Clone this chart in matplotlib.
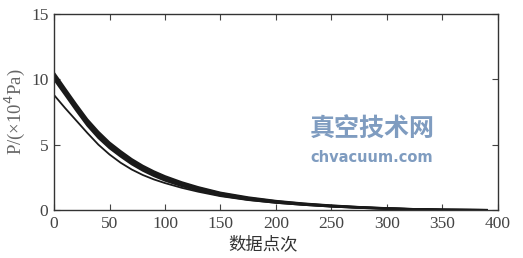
import matplotlib
matplotlib.use("Agg")
import matplotlib.pyplot as plt

# 数据点次 (sample positions)
x_pts = [0, 5, 10, 20, 30, 40, 50, 60, 70, 80, 90, 100, 115, 130, 150, 175, 200, 225, 250, 275, 300, 325, 350, 390]

# bundle of curves (upper group)
p_a = [10.50, 9.90, 9.29, 8.09, 6.94, 5.99, 5.17, 4.51, 3.90, 3.39, 2.96, 2.59, 2.13, 1.75, 1.33, 0.97, 0.70, 0.50, 0.35, 0.23, 0.14, 0.07, 0.03, 0.0]
p_b = [10.38, 9.78, 9.17, 7.97, 6.82, 5.87, 5.06, 4.40, 3.80, 3.30, 2.87, 2.51, 2.06, 1.69, 1.28, 0.92, 0.67, 0.48, 0.33, 0.22, 0.13, 0.07, 0.02, 0.0]
p_c = [10.25, 9.65, 9.05, 7.85, 6.70, 5.75, 4.95, 4.30, 3.70, 3.20, 2.78, 2.42, 1.98, 1.62, 1.22, 0.88, 0.63, 0.45, 0.31, 0.20, 0.12, 0.06, 0.02, 0.0]
p_d = [10.12, 9.52, 8.93, 7.73, 6.58, 5.63, 4.84, 4.20, 3.60, 3.11, 2.69, 2.34, 1.91, 1.56, 1.17, 0.84, 0.60, 0.43, 0.29, 0.19, 0.11, 0.06, 0.02, 0.0]
p_e = [10.00, 9.40, 8.81, 7.61, 6.46, 5.51, 4.73, 4.09, 3.50, 3.01, 2.60, 2.25, 1.83, 1.49, 1.11, 0.79, 0.56, 0.40, 0.27, 0.17, 0.10, 0.05, 0.01, 0.0]
# lower single curve
p_low = [8.80, 8.30, 7.80, 6.85, 5.90, 5.00, 4.25, 3.62, 3.10, 2.68, 2.34, 2.06, 1.70, 1.40, 1.06, 0.76, 0.55, 0.39, 0.26, 0.16, 0.08, 0.03, 0.01, 0.0]

x_ticks = [0, 50, 100, 150, 200, 250, 300, 350, 400]
y_ticks = [0, 5, 10, 15]

fig = plt.figure(figsize=(5.23, 2.58), dpi=100)
ax = fig.add_axes([0.1033, 0.186, 0.8487, 0.7597])

for p in (p_a, p_b, p_c, p_d, p_e):
    ax.plot(x_pts, p, color="#1a1a1a", lw=1.5, solid_joinstyle="round")
ax.plot(x_pts, p_low, color="#1a1a1a", lw=1.3, solid_joinstyle="round")

ax.set_xlim(0, 400)
ax.set_ylim(0, 15)
ax.set_xticks(x_ticks)
ax.set_yticks(y_ticks)
ax.tick_params(direction="in", length=4, width=0.8, top=True, right=True,
               labelsize=12.5, colors="#444444", pad=4)
for lab in ax.get_xticklabels() + ax.get_yticklabels():
    lab.set_family("Liberation Serif")
for s in ax.spines.values():
    s.set_color("#333333")
    s.set_linewidth(1.0)

ax.set_ylabel("P/(×10$^4$Pa)", family="Liberation Serif", fontsize=13.5, color="#666666", labelpad=3)
ax.set_xlabel("数据点次", family=["Noto Sans CJK SC", "DejaVu Sans"], fontsize=12.5, color="#333333", labelpad=2)
ax.xaxis.set_label_coords(0.47, -0.13)

# watermark
fig.text(0.711, 0.496, "真空技术网", family=["Noto Sans CJK SC"], fontweight="bold",
         fontsize=18, color="#7f9cc0", ha="center", va="center")
fig.text(0.711, 0.39, "chvacuum.com", family="DejaVu Sans", fontweight="bold",
         fontsize=10.5, color="#7f9cc0", ha="center", va="center")

fig.savefig("out.png", dpi=100)
